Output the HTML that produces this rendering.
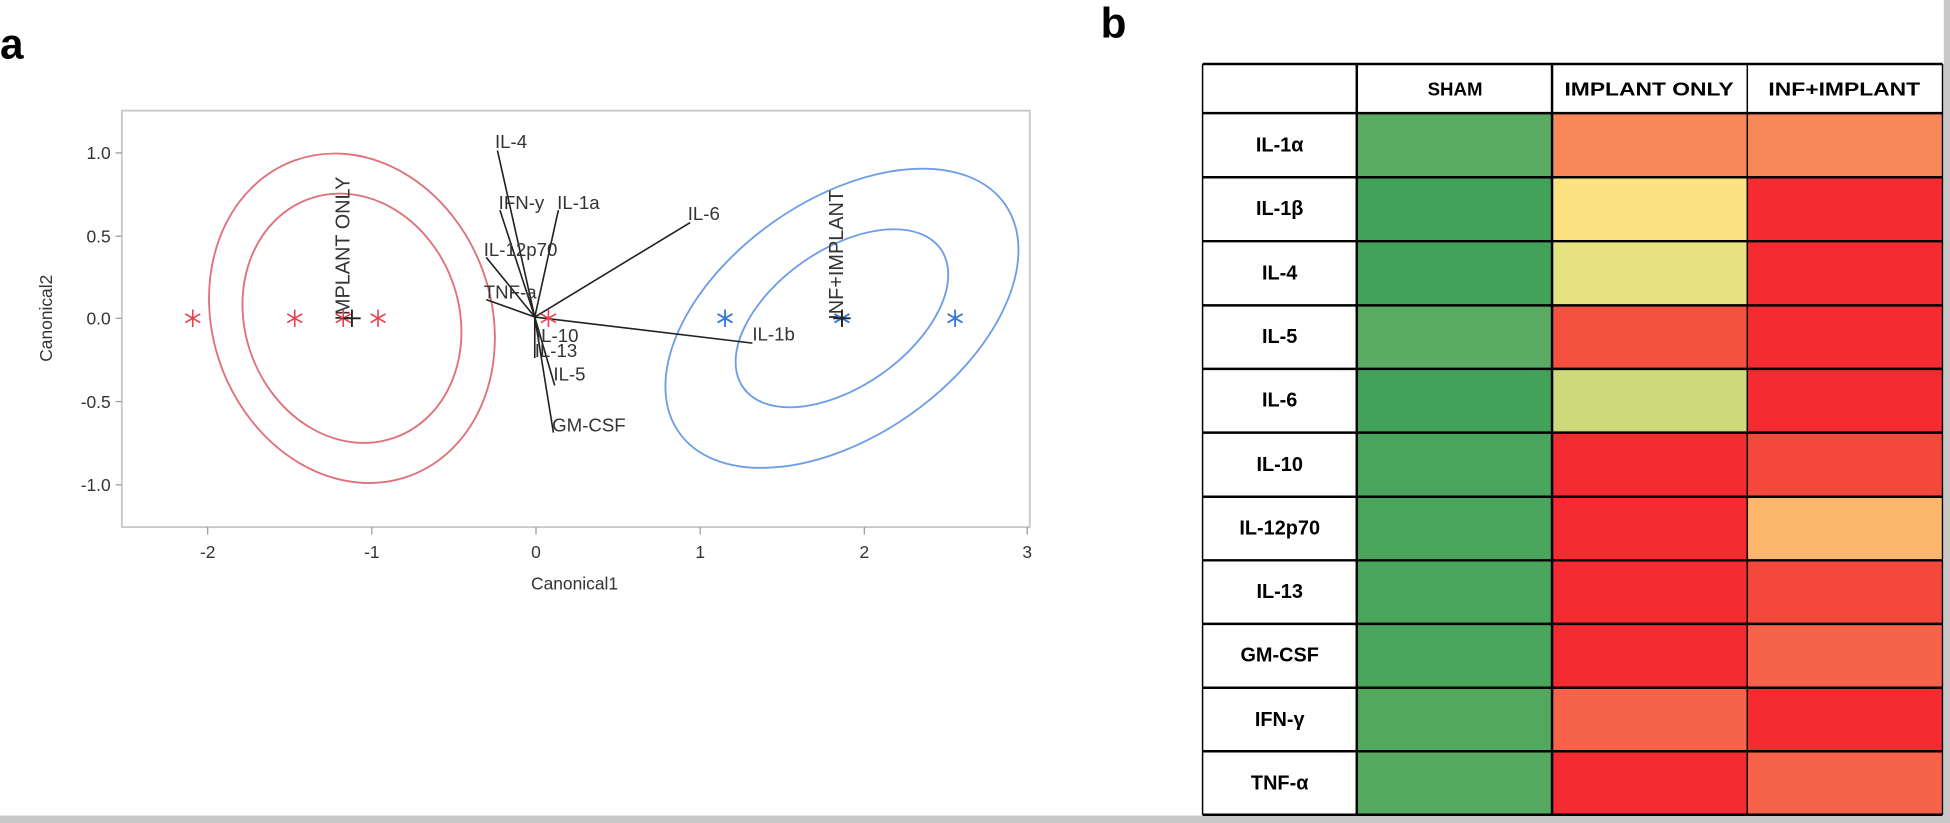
<!DOCTYPE html>
<html><head><meta charset="utf-8"><style>
html,body{margin:0;padding:0;background:#fff;}
svg{display:block;}
</style></head><body>
<svg width="1950" height="823" viewBox="0 0 1568 662" preserveAspectRatio="none" xmlns="http://www.w3.org/2000/svg" font-family="Liberation Sans, sans-serif">
<defs>
<g id="ast"><line x1="0" y1="-7" x2="0" y2="7"/><line x1="-6" y1="-3.5" x2="6" y2="3.5"/><line x1="-6" y1="3.5" x2="6" y2="-3.5"/></g>
</defs>
<rect x="0" y="0" width="1568" height="662" fill="#fff"/>
<rect x="0" y="656" width="1568" height="6" fill="#c8c8c8"/>
<rect x="1563" y="0" width="5" height="656" fill="#c8c8c8"/>
<text x="0" y="47" font-size="34" font-weight="bold">a</text>
<text x="885" y="30" font-size="34" font-weight="bold">b</text>
<rect x="98" y="89" width="730" height="335" fill="none" stroke="#c8c8c8" stroke-width="1.5"/>
<g stroke="#999" stroke-width="1">
<line x1="93" y1="123" x2="98" y2="123"/><line x1="93" y1="190" x2="98" y2="190"/><line x1="93" y1="256" x2="98" y2="256"/><line x1="93" y1="323" x2="98" y2="323"/><line x1="93" y1="390" x2="98" y2="390"/>
<line x1="167" y1="424" x2="167" y2="430"/><line x1="299" y1="424" x2="299" y2="430"/><line x1="431" y1="424" x2="431" y2="430"/><line x1="563" y1="424" x2="563" y2="430"/><line x1="695" y1="424" x2="695" y2="430"/><line x1="826" y1="424" x2="826" y2="430"/>
</g>
<g font-size="14" fill="#333" text-anchor="end">
<text x="89" y="128">1.0</text><text x="89" y="195">0.5</text><text x="89" y="261">0.0</text><text x="89" y="328">-0.5</text><text x="89" y="395">-1.0</text>
</g>
<g font-size="14" fill="#333" text-anchor="middle">
<text x="167" y="449">-2</text><text x="299" y="449">-1</text><text x="431" y="449">0</text><text x="563" y="449">1</text><text x="695" y="449">2</text><text x="826" y="449">3</text>
<text x="462" y="474">Canonical1</text>
<text transform="translate(42,256) rotate(-90)">Canonical2</text>
</g>
<g fill="none" stroke-width="1.5">
<ellipse cx="283" cy="256" rx="112" ry="135" transform="rotate(-20 283 256)" stroke="#e0707a"/>
<ellipse cx="283" cy="256" rx="86" ry="102" transform="rotate(-20 283 256)" stroke="#e0707a"/>
<ellipse cx="677" cy="256" rx="95" ry="160" transform="rotate(55 677 256)" stroke="#6f9ee8"/>
<ellipse cx="677" cy="256" rx="55" ry="97" transform="rotate(55 677 256)" stroke="#6f9ee8"/>
</g>
<g stroke="#222" stroke-width="1.3">
<line x1="430" y1="255" x2="400" y2="121"/><line x1="430" y1="255" x2="402" y2="169"/><line x1="430" y1="255" x2="449" y2="169"/><line x1="430" y1="255" x2="555" y2="179"/><line x1="430" y1="255" x2="391" y2="207"/><line x1="430" y1="255" x2="391" y2="241"/><line x1="430" y1="255" x2="605" y2="276"/><line x1="430" y1="255" x2="430" y2="288"/><line x1="430" y1="255" x2="446" y2="310"/><line x1="430" y1="255" x2="445" y2="348"/>
</g>
<g font-size="15" fill="#333">
<text x="398" y="119">IL-4</text><text x="401" y="168">IFN-y</text><text x="448" y="168">IL-1a</text><text x="553" y="177">IL-6</text><text x="389" y="206">IL-12p70</text><text x="389" y="240">TNF-a</text><text x="605" y="274">IL-1b</text><text x="431" y="275">IL-10</text><text x="430" y="287">IL-13</text><text x="445" y="306">IL-5</text><text x="444" y="347">GM-CSF</text>
</g>
<g font-size="16" fill="#333" text-anchor="middle">
<text transform="translate(281,200) rotate(-90)">IMPLANT ONLY</text>
<text transform="translate(678,205) rotate(-90)">INF+IMPLANT</text>
</g>
<g stroke="#e8404f" stroke-width="1.3">
<use href="#ast" x="155" y="256"/><use href="#ast" x="237" y="256"/><use href="#ast" x="276" y="256"/><use href="#ast" x="304" y="256"/><use href="#ast" x="441" y="256"/>
</g>
<g stroke="#3a78d8" stroke-width="1.5">
<use href="#ast" x="583" y="256"/><use href="#ast" x="677" y="256"/><use href="#ast" x="768" y="256"/>
</g>
<g stroke="#222" stroke-width="1.5">
<line x1="276" y1="256" x2="290" y2="256"/><line x1="283" y1="249" x2="283" y2="263"/>
<line x1="670" y1="256" x2="684" y2="256"/><line x1="677" y1="249" x2="677" y2="263"/>
</g>
<g stroke="none">
<rect x="1091" y="91" width="157" height="51.6" fill="#5aab63"/><rect x="1248" y="91" width="157" height="51.6" fill="#f8875a"/><rect x="1405" y="91" width="157" height="51.6" fill="#f8875a"/>
<rect x="1091" y="142.6" width="157" height="51.4" fill="#43a25a"/><rect x="1248" y="142.6" width="157" height="51.4" fill="#fde282"/><rect x="1405" y="142.6" width="157" height="51.4" fill="#f42b30"/>
<rect x="1091" y="194" width="157" height="51.6" fill="#43a25a"/><rect x="1248" y="194" width="157" height="51.6" fill="#e6e282"/><rect x="1405" y="194" width="157" height="51.6" fill="#f42b30"/>
<rect x="1091" y="245.6" width="157" height="51.1" fill="#5aab63"/><rect x="1248" y="245.6" width="157" height="51.1" fill="#f4513f"/><rect x="1405" y="245.6" width="157" height="51.1" fill="#f42b30"/>
<rect x="1091" y="296.7" width="157" height="51.3" fill="#43a25a"/><rect x="1248" y="296.7" width="157" height="51.3" fill="#cdd97a"/><rect x="1405" y="296.7" width="157" height="51.3" fill="#f42b30"/>
<rect x="1091" y="348" width="157" height="51.6" fill="#4aa65c"/><rect x="1248" y="348" width="157" height="51.6" fill="#f42b30"/><rect x="1405" y="348" width="157" height="51.6" fill="#f4483c"/>
<rect x="1091" y="399.6" width="157" height="51.1" fill="#4aa65c"/><rect x="1248" y="399.6" width="157" height="51.1" fill="#f42b30"/><rect x="1405" y="399.6" width="157" height="51.1" fill="#fdb76c"/>
<rect x="1091" y="450.7" width="157" height="51.1" fill="#4aa65c"/><rect x="1248" y="450.7" width="157" height="51.1" fill="#f42b30"/><rect x="1405" y="450.7" width="157" height="51.1" fill="#f4483c"/>
<rect x="1091" y="501.8" width="157" height="51.4" fill="#4aa65c"/><rect x="1248" y="501.8" width="157" height="51.4" fill="#f42b30"/><rect x="1405" y="501.8" width="157" height="51.4" fill="#f6634a"/>
<rect x="1091" y="553.2" width="157" height="51.1" fill="#52a95e"/><rect x="1248" y="553.2" width="157" height="51.1" fill="#f6634a"/><rect x="1405" y="553.2" width="157" height="51.1" fill="#f42b30"/>
<rect x="1091" y="604.3" width="157" height="51.1" fill="#55aa60"/><rect x="1248" y="604.3" width="157" height="51.1" fill="#f42b30"/><rect x="1405" y="604.3" width="157" height="51.1" fill="#f6634a"/>
</g>
<g stroke="#000" stroke-width="2">
<line x1="967" y1="51.5" x2="1562" y2="51.5"/>
<line x1="967" y1="91" x2="1562" y2="91"/>
<line x1="967" y1="142.6" x2="1562" y2="142.6"/><line x1="967" y1="194" x2="1562" y2="194"/><line x1="967" y1="245.6" x2="1562" y2="245.6"/><line x1="967" y1="296.7" x2="1562" y2="296.7"/><line x1="967" y1="348" x2="1562" y2="348"/><line x1="967" y1="399.6" x2="1562" y2="399.6"/><line x1="967" y1="450.7" x2="1562" y2="450.7"/><line x1="967" y1="501.8" x2="1562" y2="501.8"/><line x1="967" y1="553.2" x2="1562" y2="553.2"/><line x1="967" y1="604.3" x2="1562" y2="604.3"/><line x1="967" y1="655.4" x2="1562" y2="655.4"/>
<line x1="967" y1="51.5" x2="967" y2="655.4" stroke-width="1.2"/><line x1="1091" y1="51.5" x2="1091" y2="655.4"/><line x1="1248" y1="51.5" x2="1248" y2="655.4"/><line x1="1405" y1="51.5" x2="1405" y2="655.4" stroke-width="1.2"/><line x1="1562" y1="51.5" x2="1562" y2="655.4" stroke-width="1.2"/>
</g>
<g font-size="15" font-weight="bold" text-anchor="middle" fill="#000">
<text x="1170" y="77">SHAM</text><text x="1326" y="77" textLength="136" lengthAdjust="spacingAndGlyphs">IMPLANT ONLY</text><text x="1483" y="77" textLength="122" lengthAdjust="spacingAndGlyphs">INF+IMPLANT</text>
</g>
<g font-size="16" font-weight="bold" text-anchor="middle" fill="#000">
<text x="1029" y="122">IL-1α</text><text x="1029" y="173">IL-1β</text><text x="1029" y="225">IL-4</text><text x="1029" y="276">IL-5</text><text x="1029" y="327">IL-6</text><text x="1029" y="379">IL-10</text><text x="1029" y="430">IL-12p70</text><text x="1029" y="481">IL-13</text><text x="1029" y="532">GM-CSF</text><text x="1029" y="584">IFN-γ</text><text x="1029" y="635">TNF-α</text>
</g>
</svg>
</body></html>
